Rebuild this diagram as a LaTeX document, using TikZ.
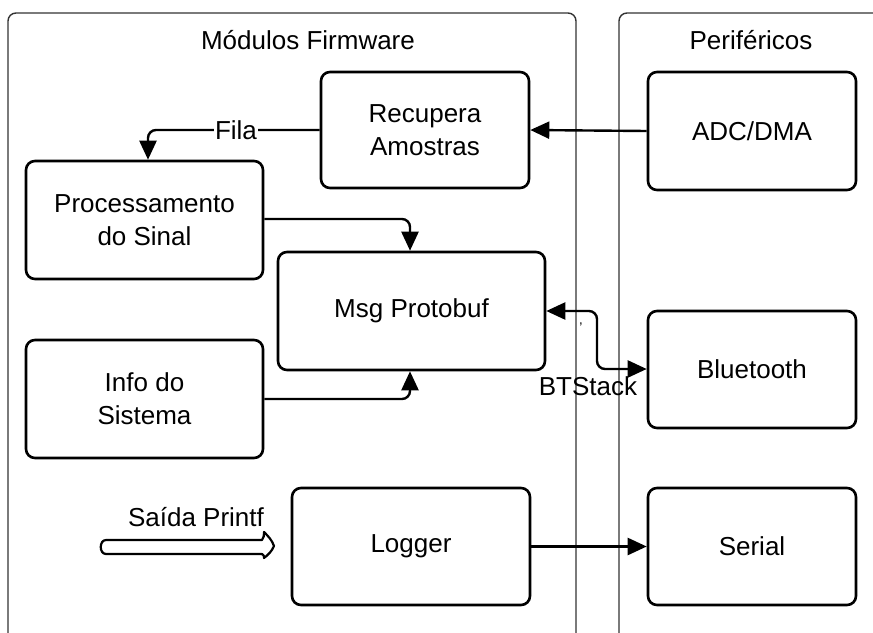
\documentclass[tikz,border=0pt]{standalone}
\usepackage{fontspec}
\setmainfont{Liberation Sans}
\usetikzlibrary{arrows.meta}
\begin{document}
\begin{tikzpicture}[x=1pt,y=-1pt,
  >={Triangle[length=19pt,width=17pt]},
  lane/.style={draw=black!80,line width=1.4pt,rounded corners=8pt},
  blk/.style={draw=black,line width=2.6pt,rounded corners=9pt,fill=white,
    font=\fontsize{26}{33}\selectfont,align=center,inner sep=0pt},
  conn/.style={line width=2.4pt,rounded corners=8pt,->},
  lbl/.style={font=\fontsize{26}{30}\selectfont,inner sep=1pt}]
\useasboundingbox (0,0) rectangle (873,632);
\fill[white] (0,0) rectangle (873,632);

% swimlanes
\draw[lane] (8,640) -- (8,13) -- (576,13) -- (576,640);
\draw[lane] (619,640) -- (619,13) -- (890,13);
\node[lbl] (t1) at (308,40) {Módulos Firmware};
\node[lbl] (t2) at (751,40) {Periféricos};

% blocks
\node[blk,minimum width=208pt,minimum height=116pt] (rec) at (425,130) {Recupera\\Amostras};
\node[blk,minimum width=208pt,minimum height=118pt] (adc) at (752,131) {ADC/DMA};
\node[blk,minimum width=237pt,minimum height=118pt] (proc) at (144.5,220) {Processamento\\do Sinal};
\node[blk,minimum width=267pt,minimum height=118pt] (msg) at (411.5,311) {Msg Protobuf};
\node[blk,minimum width=237pt,minimum height=118pt] (info) at (144.5,399) {Info do\\Sistema};
\node[blk,minimum width=208pt,minimum height=117pt] (bt) at (752,369.5) {Bluetooth};
\node[blk,minimum width=238pt,minimum height=117pt] (log) at (411,546.5) {Logger};
\node[blk,minimum width=208pt,minimum height=117pt] (ser) at (752,546.5) {Serial};

% connectors
\draw[conn] (adc.west) -- (rec.west -| rec.east);
\coordinate (fq) at (proc.north -| 148,0);
\draw[conn] (rec.west) -| (fq);
\node[lbl,fill=white] (fila) at (236,130) {Fila};
\draw[conn] (proc.east |- 0,219) -| (msg.north -| 410,0);
\draw[conn] (info.east |- 0,399) -| (msg.south -| 410,0);
\draw[conn,<->] (msg.east |- 0,311) -| (597,340) |- (bt.west |- 0,369);
\node[lbl] (bts) at (588,386) {BTStack};
\node[font=\fontsize{14}{14}\selectfont,inner sep=0pt] (tick) at (581,328) {'};
\draw[conn] (log.east) -- (ser.west);

% printf output arrow
\draw[line width=2.2pt,line join=round,fill=white]
  (106,540) -- (262,540) .. controls (264,538) and (264,535) .. (264,532)
  .. controls (268,536) and (272,540) .. (274,546)
  .. controls (272,551) and (268,555) .. (264,558)
  .. controls (264,556) and (264,555) .. (262,554)
  -- (106,554) .. controls (99,554) and (99,540) .. (106,540) -- cycle;
\node[lbl] (prn) at (196,517) {Saída Printf};
\end{tikzpicture}
\end{document}
